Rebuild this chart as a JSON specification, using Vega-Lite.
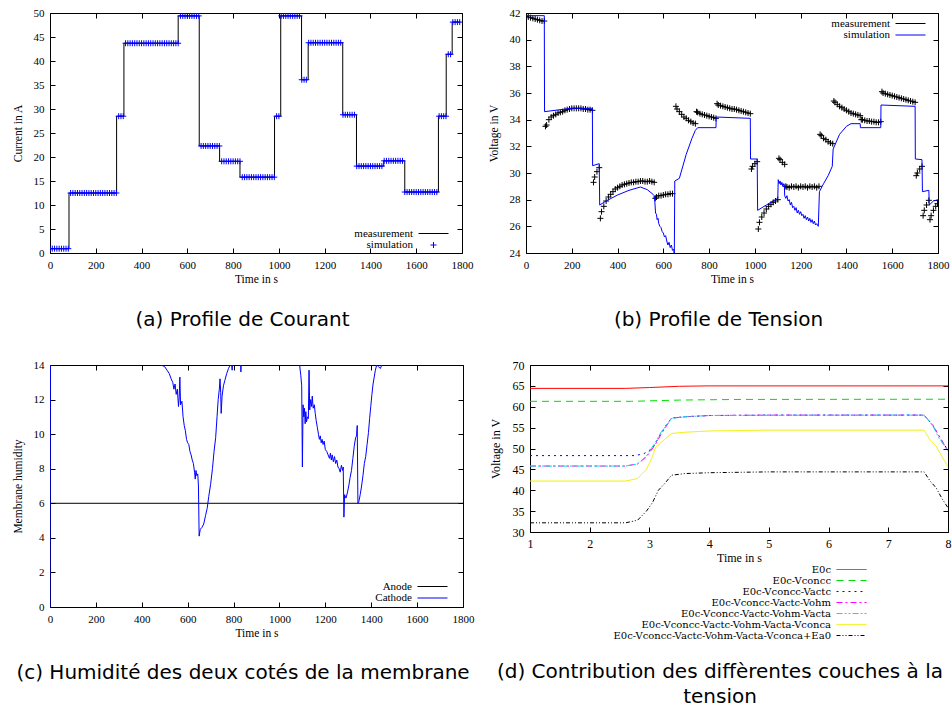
{
"$schema": "https://vega.github.io/schema/vega-lite/v6.json",
"background": "white",
"padding": {"left": 11, "top": 6, "right": 0, "bottom": 0},
"spacing": 28,
"datasets": {
"a_line": [{"t":0,"v":0.9},{"t":83,"v":12.5},{"t":291,"v":28.5},{"t":323,"v":43.7},{"t":560,"v":49.4},{"t":652,"v":22.3},{"t":741,"v":19.1},{"t":830,"v":15.8},{"t":981,"v":28.5},{"t":1008,"v":49.4},{"t":1099,"v":36.1},{"t":1128,"v":43.8},{"t":1279,"v":28.8},{"t":1339,"v":18.1},{"t":1458,"v":19.2},{"t":1550,"v":12.7},{"t":1697,"v":28.5},{"t":1731,"v":41.4},{"t":1757,"v":48.1},{"t":1790,"v":48.1}],
"a_sim": [{"t":0,"v":0.9},{"t":10,"v":0.9},{"t":20,"v":0.9},{"t":30,"v":0.9},{"t":40,"v":0.9},{"t":50,"v":0.9},{"t":60,"v":0.9},{"t":70,"v":0.9},{"t":80,"v":0.9},
{"t":90,"v":12.5},{"t":100,"v":12.5},{"t":110,"v":12.5},{"t":120,"v":12.5},{"t":130,"v":12.5},{"t":140,"v":12.5},{"t":150,"v":12.5},{"t":160,"v":12.5},{"t":170,"v":12.5},{"t":180,"v":12.5},{"t":190,"v":12.5},{"t":200,"v":12.5},{"t":210,"v":12.5},{"t":220,"v":12.5},{"t":230,"v":12.5},{"t":240,"v":12.5},{"t":250,"v":12.5},{"t":260,"v":12.5},{"t":270,"v":12.5},{"t":280,"v":12.5},{"t":290,"v":12.5},
{"t":300,"v":28.5},{"t":310,"v":28.5},{"t":320,"v":28.5},
{"t":330,"v":43.7},{"t":340,"v":43.7},{"t":350,"v":43.7},{"t":360,"v":43.7},{"t":370,"v":43.7},{"t":380,"v":43.7},{"t":390,"v":43.7},{"t":400,"v":43.7},{"t":410,"v":43.7},{"t":420,"v":43.7},{"t":430,"v":43.7},{"t":440,"v":43.7},{"t":450,"v":43.7},{"t":460,"v":43.7},{"t":470,"v":43.7},{"t":480,"v":43.7},{"t":490,"v":43.7},{"t":500,"v":43.7},{"t":510,"v":43.7},{"t":520,"v":43.7},{"t":530,"v":43.7},{"t":540,"v":43.7},{"t":550,"v":43.7},{"t":560,"v":43.7},
{"t":570,"v":49.4},{"t":580,"v":49.4},{"t":590,"v":49.4},{"t":600,"v":49.4},{"t":610,"v":49.4},{"t":620,"v":49.4},{"t":630,"v":49.4},{"t":640,"v":49.4},{"t":650,"v":49.4},
{"t":660,"v":22.3},{"t":670,"v":22.3},{"t":680,"v":22.3},{"t":690,"v":22.3},{"t":700,"v":22.3},{"t":710,"v":22.3},{"t":720,"v":22.3},{"t":730,"v":22.3},{"t":740,"v":22.3},
{"t":750,"v":19.1},{"t":760,"v":19.1},{"t":770,"v":19.1},{"t":780,"v":19.1},{"t":790,"v":19.1},{"t":800,"v":19.1},{"t":810,"v":19.1},{"t":820,"v":19.1},{"t":830,"v":19.1},
{"t":840,"v":15.8},{"t":850,"v":15.8},{"t":860,"v":15.8},{"t":870,"v":15.8},{"t":880,"v":15.8},{"t":890,"v":15.8},{"t":900,"v":15.8},{"t":910,"v":15.8},{"t":920,"v":15.8},{"t":930,"v":15.8},{"t":940,"v":15.8},{"t":950,"v":15.8},{"t":960,"v":15.8},{"t":970,"v":15.8},{"t":980,"v":15.8},
{"t":990,"v":28.5},{"t":1000,"v":28.5},
{"t":1010,"v":49.4},{"t":1020,"v":49.4},{"t":1030,"v":49.4},{"t":1040,"v":49.4},{"t":1050,"v":49.4},{"t":1060,"v":49.4},{"t":1070,"v":49.4},{"t":1080,"v":49.4},{"t":1090,"v":49.4},
{"t":1100,"v":36.1},{"t":1110,"v":36.1},{"t":1120,"v":36.1},
{"t":1130,"v":43.8},{"t":1140,"v":43.8},{"t":1150,"v":43.8},{"t":1160,"v":43.8},{"t":1170,"v":43.8},{"t":1180,"v":43.8},{"t":1190,"v":43.8},{"t":1200,"v":43.8},{"t":1210,"v":43.8},{"t":1220,"v":43.8},{"t":1230,"v":43.8},{"t":1240,"v":43.8},{"t":1250,"v":43.8},{"t":1260,"v":43.8},{"t":1270,"v":43.8},
{"t":1280,"v":28.8},{"t":1290,"v":28.8},{"t":1300,"v":28.8},{"t":1310,"v":28.8},{"t":1320,"v":28.8},{"t":1330,"v":28.8},
{"t":1340,"v":18.1},{"t":1350,"v":18.1},{"t":1360,"v":18.1},{"t":1370,"v":18.1},{"t":1380,"v":18.1},{"t":1390,"v":18.1},{"t":1400,"v":18.1},{"t":1410,"v":18.1},{"t":1420,"v":18.1},{"t":1430,"v":18.1},{"t":1440,"v":18.1},{"t":1450,"v":18.1},
{"t":1460,"v":19.2},{"t":1470,"v":19.2},{"t":1480,"v":19.2},{"t":1490,"v":19.2},{"t":1500,"v":19.2},{"t":1510,"v":19.2},{"t":1520,"v":19.2},{"t":1530,"v":19.2},{"t":1540,"v":19.2},
{"t":1550,"v":12.7},{"t":1560,"v":12.7},{"t":1570,"v":12.7},{"t":1580,"v":12.7},{"t":1590,"v":12.7},{"t":1600,"v":12.7},{"t":1610,"v":12.7},{"t":1620,"v":12.7},{"t":1630,"v":12.7},{"t":1640,"v":12.7},{"t":1650,"v":12.7},{"t":1660,"v":12.7},{"t":1670,"v":12.7},{"t":1680,"v":12.7},{"t":1690,"v":12.7},
{"t":1700,"v":28.5},{"t":1710,"v":28.5},{"t":1720,"v":28.5},{"t":1730,"v":28.5},
{"t":1740,"v":41.4},{"t":1750,"v":41.4},
{"t":1760,"v":48.1},{"t":1770,"v":48.1},{"t":1780,"v":48.1},{"t":1790,"v":48.1}],
"b_meas": [{"t":0,"v":41.75},{"t":10,"v":41.7},{"t":20,"v":41.65},{"t":30,"v":41.6},{"t":40,"v":41.55},{"t":50,"v":41.5},{"t":60,"v":41.45},{"t":70,"v":41.4},{"t":80,"v":41.4},
{"t":85,"v":33.5},{"t":90,"v":33.6},{"t":100,"v":34.0},{"t":110,"v":34.2},{"t":120,"v":34.3},{"t":130,"v":34.4},{"t":140,"v":34.5},{"t":150,"v":34.55},{"t":160,"v":34.6},{"t":170,"v":34.7},{"t":180,"v":34.75},{"t":190,"v":34.8},{"t":200,"v":34.85},{"t":210,"v":34.85},{"t":220,"v":34.85},{"t":230,"v":34.85},{"t":240,"v":34.85},{"t":250,"v":34.8},{"t":260,"v":34.8},{"t":270,"v":34.75},{"t":280,"v":34.75},{"t":290,"v":34.7},
{"t":295,"v":29.3},{"t":300,"v":29.7},{"t":310,"v":30.1},{"t":320,"v":30.4},
{"t":325,"v":26.6},{"t":330,"v":27.1},{"t":340,"v":27.5},{"t":350,"v":27.9},{"t":360,"v":28.2},{"t":370,"v":28.4},{"t":380,"v":28.6},{"t":390,"v":28.8},{"t":400,"v":28.9},{"t":410,"v":29.0},{"t":420,"v":29.1},{"t":430,"v":29.15},{"t":440,"v":29.2},{"t":450,"v":29.25},{"t":460,"v":29.3},{"t":470,"v":29.3},{"t":480,"v":29.35},{"t":490,"v":29.35},{"t":500,"v":29.4},{"t":510,"v":29.4},{"t":520,"v":29.35},{"t":530,"v":29.35},{"t":540,"v":29.4},{"t":550,"v":29.35},{"t":560,"v":29.3},
{"t":565,"v":28.1},{"t":570,"v":28.2},{"t":580,"v":28.3},{"t":590,"v":28.3},{"t":600,"v":28.35},{"t":610,"v":28.4},{"t":620,"v":28.4},{"t":630,"v":28.45},{"t":640,"v":28.45},
{"t":655,"v":35.0},{"t":660,"v":34.8},{"t":670,"v":34.6},{"t":680,"v":34.4},{"t":690,"v":34.2},{"t":700,"v":34.1},{"t":710,"v":33.95},{"t":720,"v":33.85},{"t":730,"v":33.75},{"t":740,"v":33.7},
{"t":745,"v":34.6},{"t":750,"v":34.55},{"t":760,"v":34.45},{"t":770,"v":34.4},{"t":780,"v":34.35},{"t":790,"v":34.3},{"t":800,"v":34.25},{"t":810,"v":34.2},{"t":820,"v":34.15},{"t":830,"v":34.1},
{"t":835,"v":35.2},{"t":840,"v":35.1},{"t":850,"v":35.05},{"t":860,"v":35.0},{"t":870,"v":34.95},{"t":880,"v":34.9},{"t":890,"v":34.85},{"t":900,"v":34.8},{"t":910,"v":34.8},{"t":920,"v":34.75},{"t":930,"v":34.7},{"t":940,"v":34.65},{"t":950,"v":34.6},{"t":960,"v":34.55},{"t":970,"v":34.5},{"t":980,"v":34.45},
{"t":985,"v":30.3},{"t":990,"v":30.5},{"t":1000,"v":30.7},{"t":1010,"v":30.85},
{"t":1015,"v":25.8},{"t":1020,"v":26.3},{"t":1030,"v":26.7},{"t":1040,"v":27.0},{"t":1050,"v":27.3},{"t":1060,"v":27.5},{"t":1070,"v":27.65},{"t":1080,"v":27.8},{"t":1090,"v":27.9},{"t":1100,"v":28.0},
{"t":1105,"v":31.1},{"t":1110,"v":31.0},{"t":1120,"v":30.8},{"t":1130,"v":30.65},
{"t":1135,"v":29.0},{"t":1140,"v":28.95},{"t":1150,"v":28.9},{"t":1160,"v":29.0},{"t":1170,"v":28.95},{"t":1180,"v":29.0},{"t":1190,"v":28.9},{"t":1200,"v":29.0},{"t":1210,"v":28.95},{"t":1220,"v":29.0},{"t":1230,"v":28.9},{"t":1240,"v":29.0},{"t":1250,"v":28.95},{"t":1260,"v":29.0},{"t":1270,"v":28.9},{"t":1280,"v":29.0},
{"t":1285,"v":32.9},{"t":1290,"v":32.8},{"t":1300,"v":32.6},{"t":1310,"v":32.5},{"t":1320,"v":32.35},{"t":1330,"v":32.25},{"t":1340,"v":32.2},
{"t":1345,"v":35.4},{"t":1350,"v":35.3},{"t":1360,"v":35.15},{"t":1370,"v":35.0},{"t":1380,"v":34.9},{"t":1390,"v":34.8},{"t":1400,"v":34.7},{"t":1410,"v":34.6},{"t":1420,"v":34.5},{"t":1430,"v":34.45},{"t":1440,"v":34.4},{"t":1450,"v":34.35},{"t":1460,"v":34.3},
{"t":1465,"v":34.0},{"t":1470,"v":34.0},{"t":1480,"v":33.95},{"t":1490,"v":33.9},{"t":1500,"v":33.9},{"t":1510,"v":33.85},{"t":1520,"v":33.85},{"t":1530,"v":33.8},{"t":1540,"v":33.8},{"t":1550,"v":33.85},
{"t":1555,"v":36.1},{"t":1560,"v":36.0},{"t":1570,"v":35.95},{"t":1580,"v":35.9},{"t":1590,"v":35.85},{"t":1600,"v":35.8},{"t":1610,"v":35.75},{"t":1620,"v":35.7},{"t":1630,"v":35.65},{"t":1640,"v":35.6},{"t":1650,"v":35.55},{"t":1660,"v":35.5},{"t":1670,"v":35.45},{"t":1680,"v":35.4},{"t":1690,"v":35.35},{"t":1700,"v":35.3},
{"t":1705,"v":29.8},{"t":1710,"v":30.0},{"t":1720,"v":30.3},{"t":1730,"v":30.5},
{"t":1735,"v":26.8},{"t":1740,"v":27.2},{"t":1750,"v":27.6},{"t":1760,"v":27.95},
{"t":1765,"v":26.5},{"t":1770,"v":26.8},{"t":1780,"v":27.2},{"t":1790,"v":27.5},{"t":1798,"v":27.7}],
"b_sim": [{"t":0,"v":41.8},{"t":80,"v":41.8},{"t":81,"v":34.6},{"t":150,"v":34.75},{"t":200,"v":34.85},{"t":290,"v":34.85},{"t":291,"v":30.55},{"t":320,"v":30.7},{"t":322,"v":27.6},{"t":350,"v":27.9},{"t":400,"v":28.35},{"t":450,"v":28.7},{"t":500,"v":28.95},{"t":530,"v":28.75},{"t":555,"v":28.4},
{"t":560,"v":28.3},{"t":563,"v":27.8},{"t":566,"v":27.0},{"t":570,"v":26.9},{"t":573,"v":26.5},{"t":577,"v":26.6},{"t":580,"v":26.2},{"t":585,"v":26.0},{"t":590,"v":25.9},{"t":595,"v":25.6},{"t":600,"v":25.5},{"t":605,"v":25.2},{"t":610,"v":25.3},{"t":615,"v":24.9},{"t":620,"v":24.6},{"t":625,"v":24.8},{"t":630,"v":24.4},{"t":635,"v":24.6},{"t":640,"v":24.2},{"t":645,"v":24.3},{"t":648,"v":23.9},
{"t":650,"v":29.4},{"t":670,"v":29.6},{"t":700,"v":31.4},{"t":725,"v":32.6},{"t":740,"v":33.2},{"t":750,"v":33.4},{"t":830,"v":33.4},{"t":831,"v":34.2},{"t":980,"v":34.1},{"t":981,"v":31.05},{"t":1010,"v":31.05},{"t":1012,"v":27.2},{"t":1050,"v":27.6},{"t":1080,"v":27.9},{"t":1100,"v":28.1},
{"t":1102,"v":29.5},{"t":1106,"v":29.2},{"t":1110,"v":29.4},{"t":1114,"v":29.1},{"t":1118,"v":29.3},{"t":1122,"v":29.0},{"t":1126,"v":29.2},{"t":1129,"v":29.1},
{"t":1130,"v":28.3},{"t":1135,"v":28.1},{"t":1140,"v":28.3},{"t":1145,"v":27.9},{"t":1150,"v":28.0},{"t":1155,"v":27.6},{"t":1160,"v":27.8},{"t":1165,"v":27.4},{"t":1170,"v":27.5},{"t":1175,"v":27.2},{"t":1180,"v":27.4},{"t":1185,"v":27.0},{"t":1190,"v":27.2},{"t":1195,"v":26.9},{"t":1200,"v":27.1},{"t":1205,"v":26.8},{"t":1210,"v":26.9},{"t":1215,"v":26.6},{"t":1220,"v":26.8},{"t":1225,"v":26.5},{"t":1230,"v":26.7},{"t":1235,"v":26.4},{"t":1240,"v":26.6},{"t":1245,"v":26.3},{"t":1250,"v":26.5},{"t":1255,"v":26.2},{"t":1260,"v":26.4},{"t":1265,"v":26.1},{"t":1270,"v":26.2},{"t":1277,"v":26.0},
{"t":1282,"v":28.6},{"t":1300,"v":29.2},{"t":1320,"v":29.8},{"t":1338,"v":30.5},{"t":1342,"v":31.8},{"t":1370,"v":32.9},{"t":1400,"v":33.5},{"t":1420,"v":33.7},{"t":1460,"v":33.7},{"t":1461,"v":33.4},{"t":1550,"v":33.4},{"t":1551,"v":35.1},{"t":1700,"v":35.0},{"t":1701,"v":31.05},{"t":1730,"v":31.0},{"t":1732,"v":28.6},{"t":1760,"v":28.7},{"t":1762,"v":27.6},{"t":1780,"v":27.9},{"t":1800,"v":28.0}],
"c_an": [{"t":0,"v":6},{"t":1800,"v":6}],
"c_ca": [{"t":0,"v":0},{"t":2,"v":15},{"t":478,"v":15},{"t":485,"v":14},{"t":500,"v":13.9},{"t":510,"v":13.7},{"t":520,"v":13.5},{"t":528,"v":13.2},{"t":535,"v":13.0},{"t":540,"v":12.6},{"t":545,"v":12.9},{"t":550,"v":12.3},{"t":555,"v":12.6},{"t":560,"v":11.6},{"t":563,"v":12.1},{"t":566,"v":13.3},{"t":569,"v":11.7},{"t":575,"v":11.9},{"t":580,"v":11.0},{"t":585,"v":10.5},{"t":590,"v":10.2},{"t":595,"v":9.7},{"t":600,"v":9.5},{"t":605,"v":9.4},{"t":610,"v":9.0},{"t":615,"v":8.8},{"t":620,"v":8.5},{"t":625,"v":8.3},{"t":630,"v":7.8},{"t":633,"v":7.4},{"t":636,"v":7.9},{"t":640,"v":7.6},{"t":644,"v":7.7},{"t":647,"v":7.0},{"t":650,"v":4.1},{"t":655,"v":4.5},{"t":662,"v":4.6},{"t":670,"v":4.8},{"t":678,"v":5.3},{"t":685,"v":5.7},{"t":692,"v":6.4},{"t":700,"v":7.1},{"t":708,"v":8.0},{"t":715,"v":9.0},{"t":722,"v":9.8},{"t":728,"v":11.0},{"t":733,"v":12.0},{"t":738,"v":12.6},{"t":741,"v":13.2},{"t":744,"v":12.4},{"t":746,"v":11.2},{"t":750,"v":12.2},{"t":756,"v":12.8},{"t":762,"v":13.1},{"t":770,"v":13.5},{"t":778,"v":13.8},{"t":785,"v":14.0},{"t":790,"v":14.3},{"t":794,"v":13.7},{"t":798,"v":15},{"t":830,"v":15},{"t":832,"v":13.6},{"t":835,"v":15},{"t":1082,"v":15},{"t":1088,"v":14},{"t":1093,"v":13.4},{"t":1097,"v":12.8},{"t":1100,"v":8.1},{"t":1103,"v":11.7},{"t":1106,"v":11.0},{"t":1109,"v":11.5},{"t":1112,"v":10.6},{"t":1115,"v":11.3},{"t":1118,"v":10.7},{"t":1122,"v":11.0},{"t":1126,"v":10.9},{"t":1129,"v":13.7},{"t":1132,"v":11.4},{"t":1136,"v":12.0},{"t":1140,"v":11.6},{"t":1143,"v":12.2},{"t":1147,"v":11.5},{"t":1152,"v":11.7},{"t":1156,"v":11.2},{"t":1160,"v":10.8},{"t":1165,"v":10.4},{"t":1170,"v":10.0},{"t":1174,"v":9.7},{"t":1178,"v":9.9},{"t":1182,"v":9.5},{"t":1186,"v":9.7},{"t":1190,"v":9.4},{"t":1195,"v":9.6},{"t":1200,"v":9.1},{"t":1206,"v":9.0},{"t":1212,"v":8.8},{"t":1218,"v":8.6},{"t":1222,"v":8.9},{"t":1226,"v":8.5},{"t":1230,"v":8.8},{"t":1235,"v":8.4},{"t":1240,"v":8.7},{"t":1245,"v":8.3},{"t":1250,"v":8.5},{"t":1255,"v":8.1},{"t":1260,"v":8.0},{"t":1265,"v":7.8},{"t":1270,"v":8.2},{"t":1275,"v":7.9},{"t":1278,"v":8.1},{"t":1281,"v":5.2},{"t":1284,"v":6.5},{"t":1290,"v":6.3},{"t":1296,"v":6.6},{"t":1302,"v":7.0},{"t":1308,"v":7.5},{"t":1314,"v":7.9},{"t":1320,"v":8.6},{"t":1326,"v":9.3},{"t":1332,"v":9.8},{"t":1336,"v":9.9},{"t":1339,"v":10.5},{"t":1342,"v":6.0},{"t":1346,"v":6.1},{"t":1352,"v":6.5},{"t":1358,"v":7.0},{"t":1364,"v":7.6},{"t":1370,"v":8.3},{"t":1376,"v":8.7},{"t":1382,"v":9.4},{"t":1388,"v":10.1},{"t":1393,"v":10.9},{"t":1398,"v":11.6},{"t":1403,"v":12.3},{"t":1408,"v":12.9},{"t":1413,"v":13.3},{"t":1418,"v":13.7},{"t":1424,"v":14.0},{"t":1432,"v":13.9},{"t":1440,"v":13.8},{"t":1446,"v":14.0},{"t":1450,"v":15},{"t":1800,"v":15}],
"d": [{"s":"E0c","x":1,"v":64.4},{"s":"E0c","x":2.6,"v":64.4},{"s":"E0c","x":3.0,"v":64.6},{"s":"E0c","x":3.5,"v":64.9},{"s":"E0c","x":4,"v":65.0},{"s":"E0c","x":8,"v":65.0},
{"s":"E0c-Vconcc","x":1,"v":61.3},{"s":"E0c-Vconcc","x":2.7,"v":61.3},{"s":"E0c-Vconcc","x":3.5,"v":61.6},{"s":"E0c-Vconcc","x":4.5,"v":61.75},{"s":"E0c-Vconcc","x":8,"v":61.8},
{"s":"E0c-Vconcc-Vactc","x":1,"v":48.3},{"s":"E0c-Vconcc-Vactc","x":2.75,"v":48.3},{"s":"E0c-Vconcc-Vactc","x":2.9,"v":48.7},{"s":"E0c-Vconcc-Vactc","x":3.05,"v":50.0},{"s":"E0c-Vconcc-Vactc","x":3.15,"v":52.5},{"s":"E0c-Vconcc-Vactc","x":3.25,"v":55.0},{"s":"E0c-Vconcc-Vactc","x":3.37,"v":57.3},{"s":"E0c-Vconcc-Vactc","x":3.6,"v":57.6},{"s":"E0c-Vconcc-Vactc","x":4,"v":57.9},{"s":"E0c-Vconcc-Vactc","x":5,"v":58.0},{"s":"E0c-Vconcc-Vactc","x":7.6,"v":58.0},{"s":"E0c-Vconcc-Vactc","x":7.75,"v":55.5},{"s":"E0c-Vconcc-Vactc","x":7.85,"v":53.0},{"s":"E0c-Vconcc-Vactc","x":8,"v":49.5},
{"s":"E0c-Vconcc-Vactc-Vohm","x":1,"v":45.8},{"s":"E0c-Vconcc-Vactc-Vohm","x":2.6,"v":45.8},{"s":"E0c-Vconcc-Vactc-Vohm","x":2.8,"v":46.3},{"s":"E0c-Vconcc-Vactc-Vohm","x":2.95,"v":48.0},{"s":"E0c-Vconcc-Vactc-Vohm","x":3.1,"v":51.0},{"s":"E0c-Vconcc-Vactc-Vohm","x":3.2,"v":53.5},{"s":"E0c-Vconcc-Vactc-Vohm","x":3.37,"v":57.3},{"s":"E0c-Vconcc-Vactc-Vohm","x":3.6,"v":57.6},{"s":"E0c-Vconcc-Vactc-Vohm","x":4,"v":57.9},{"s":"E0c-Vconcc-Vactc-Vohm","x":5,"v":58.0},{"s":"E0c-Vconcc-Vactc-Vohm","x":7.6,"v":58.0},{"s":"E0c-Vconcc-Vactc-Vohm","x":7.75,"v":55.5},{"s":"E0c-Vconcc-Vactc-Vohm","x":7.85,"v":53.0},{"s":"E0c-Vconcc-Vactc-Vohm","x":8,"v":49.5},
{"s":"E0c-Vconcc-Vactc-Vohm-Vacta","x":1,"v":45.8},{"s":"E0c-Vconcc-Vactc-Vohm-Vacta","x":2.6,"v":45.8},{"s":"E0c-Vconcc-Vactc-Vohm-Vacta","x":2.8,"v":46.3},{"s":"E0c-Vconcc-Vactc-Vohm-Vacta","x":2.95,"v":48.2},{"s":"E0c-Vconcc-Vactc-Vohm-Vacta","x":3.1,"v":51.5},{"s":"E0c-Vconcc-Vactc-Vohm-Vacta","x":3.2,"v":54.0},{"s":"E0c-Vconcc-Vactc-Vohm-Vacta","x":3.37,"v":57.2},{"s":"E0c-Vconcc-Vactc-Vohm-Vacta","x":3.6,"v":57.6},{"s":"E0c-Vconcc-Vactc-Vohm-Vacta","x":4,"v":57.9},{"s":"E0c-Vconcc-Vactc-Vohm-Vacta","x":5,"v":57.95},{"s":"E0c-Vconcc-Vactc-Vohm-Vacta","x":7.6,"v":58.0},{"s":"E0c-Vconcc-Vactc-Vohm-Vacta","x":7.75,"v":55.3},{"s":"E0c-Vconcc-Vactc-Vohm-Vacta","x":7.85,"v":52.5},{"s":"E0c-Vconcc-Vactc-Vohm-Vacta","x":8,"v":49.3},
{"s":"E0c-Vconcc-Vactc-Vohm-Vacta-Vconca","x":1,"v":42.2},{"s":"E0c-Vconcc-Vactc-Vohm-Vacta-Vconca","x":2.6,"v":42.2},{"s":"E0c-Vconcc-Vactc-Vohm-Vacta-Vconca","x":2.8,"v":42.8},{"s":"E0c-Vconcc-Vactc-Vohm-Vacta-Vconca","x":2.95,"v":45.0},{"s":"E0c-Vconcc-Vactc-Vohm-Vacta-Vconca","x":3.05,"v":48.0},{"s":"E0c-Vconcc-Vactc-Vohm-Vacta-Vconca","x":3.1,"v":50.2},{"s":"E0c-Vconcc-Vactc-Vohm-Vacta-Vconca","x":3.2,"v":51.5},{"s":"E0c-Vconcc-Vactc-Vohm-Vacta-Vconca","x":3.37,"v":53.6},{"s":"E0c-Vconcc-Vactc-Vohm-Vacta-Vconca","x":3.6,"v":53.9},{"s":"E0c-Vconcc-Vactc-Vohm-Vacta-Vconca","x":4,"v":54.2},{"s":"E0c-Vconcc-Vactc-Vohm-Vacta-Vconca","x":5,"v":54.4},{"s":"E0c-Vconcc-Vactc-Vohm-Vacta-Vconca","x":7.6,"v":54.4},{"s":"E0c-Vconcc-Vactc-Vohm-Vacta-Vconca","x":7.7,"v":52.0},{"s":"E0c-Vconcc-Vactc-Vohm-Vacta-Vconca","x":7.8,"v":50.6},{"s":"E0c-Vconcc-Vactc-Vohm-Vacta-Vconca","x":7.9,"v":48.0},{"s":"E0c-Vconcc-Vactc-Vohm-Vacta-Vconca","x":8,"v":45.7},
{"s":"E0c-Vconcc-Vactc-Vohm-Vacta-Vconca+Ea0","x":1,"v":32.2},{"s":"E0c-Vconcc-Vactc-Vohm-Vacta-Vconca+Ea0","x":2.6,"v":32.2},{"s":"E0c-Vconcc-Vactc-Vohm-Vacta-Vconca+Ea0","x":2.8,"v":32.8},{"s":"E0c-Vconcc-Vactc-Vohm-Vacta-Vconca+Ea0","x":2.95,"v":35.0},{"s":"E0c-Vconcc-Vactc-Vohm-Vacta-Vconca+Ea0","x":3.05,"v":37.0},{"s":"E0c-Vconcc-Vactc-Vohm-Vacta-Vconca+Ea0","x":3.15,"v":40.0},{"s":"E0c-Vconcc-Vactc-Vohm-Vacta-Vconca+Ea0","x":3.25,"v":41.5},{"s":"E0c-Vconcc-Vactc-Vohm-Vacta-Vconca+Ea0","x":3.37,"v":43.6},{"s":"E0c-Vconcc-Vactc-Vohm-Vacta-Vconca+Ea0","x":3.6,"v":44.0},{"s":"E0c-Vconcc-Vactc-Vohm-Vacta-Vconca+Ea0","x":4,"v":44.2},{"s":"E0c-Vconcc-Vactc-Vohm-Vacta-Vconca+Ea0","x":5,"v":44.4},{"s":"E0c-Vconcc-Vactc-Vohm-Vacta-Vconca+Ea0","x":7.6,"v":44.4},{"s":"E0c-Vconcc-Vactc-Vohm-Vacta-Vconca+Ea0","x":7.7,"v":42.2},{"s":"E0c-Vconcc-Vactc-Vohm-Vacta-Vconca+Ea0","x":7.8,"v":40.6},{"s":"E0c-Vconcc-Vactc-Vohm-Vacta-Vconca+Ea0","x":7.9,"v":38.0},{"s":"E0c-Vconcc-Vactc-Vohm-Vacta-Vconca+Ea0","x":8,"v":35.8}]
},
"vconcat": [
{"hconcat": [
{"width": 412, "height": 240,
 "title": {"text": "(a) Profile de Courant", "orient": "bottom", "anchor": "middle", "frame": "bounds", "offset": 25},
 "layer": [
  {"data": {"name": "a_line"},
   "mark": {"type": "line", "interpolate": "step-after", "strokeWidth": 1, "clip": true},
   "encoding": {
    "x": {"field": "t", "type": "quantitative", "scale": {"domain": [0, 1800], "nice": false}, "axis": {"orient": "bottom", "title": "Time in s", "format": "d", "values": [0,200,400,600,800,1000,1200,1400,1600,1800]}},
    "y": {"field": "v", "type": "quantitative", "scale": {"domain": [0, 50], "nice": false}, "axis": {"orient": "left", "title": "Current in A", "values": [0,5,10,15,20,25,30,35,40,45,50]}},
    "color": {"datum": "measurement", "scale": {"domain": ["measurement", "simulation"], "range": ["#000000", "#0000ff"]},
     "legend": {"title": null, "legendX": 378, "legendY": 215, "encode": {"symbols": {"update": {"shape": {"signal": "datum.value === 'simulation' ? 'M-0.6,0H0.6M0,-0.6V0.6' : 'M-3,0H3'"}, "fill": {"value": "transparent"}}}}}}
   }},
  {"data": {"name": "a_sim"},
   "mark": {"type": "point", "shape": "M-1,0H1M0,-1V1", "filled": false, "size": 36, "strokeWidth": 1, "opacity": 1, "clip": true},
   "encoding": {
    "x": {"field": "t", "type": "quantitative", "axis": {"orient": "top", "labels": false, "title": null, "values": [0,200,400,600,800,1000,1200,1400,1600,1800]}},
    "y": {"field": "v", "type": "quantitative", "axis": {"orient": "right", "labels": false, "title": null, "values": [0,5,10,15,20,25,30,35,40,45,50]}},
    "color": {"datum": "simulation"}
   }}
 ],
 "resolve": {"axis": {"x": "independent", "y": "independent"}}
},
{"width": 412, "height": 240,
 "title": {"text": "(b) Profile de Tension", "orient": "bottom", "anchor": "middle", "frame": "bounds", "offset": 25},
 "layer": [
  {"data": {"name": "b_meas"},
   "mark": {"type": "point", "shape": "M-1,0H1M0,-1V1", "filled": false, "size": 36, "strokeWidth": 1, "opacity": 1, "clip": true},
   "encoding": {
    "x": {"field": "t", "type": "quantitative", "scale": {"domain": [0, 1800], "nice": false}, "axis": {"orient": "bottom", "title": "Time in s", "format": "d", "values": [0,200,400,600,800,1000,1200,1400,1600,1800]}},
    "y": {"field": "v", "type": "quantitative", "scale": {"domain": [24, 42], "nice": false, "zero": false}, "axis": {"orient": "left", "title": "Voltage in V", "values": [24,26,28,30,32,34,36,38,40,42]}},
    "color": {"datum": "measurement", "scale": {"domain": ["measurement", "simulation"], "range": ["#000000", "#0000ff"]},
     "legend": {"title": null, "legendX": 379, "legendY": 5, "encode": {"symbols": {"update": {"shape": {"signal": "datum.value === 'measurement' ? 'M-0.6,0H0.6M0,-0.6V0.6' : 'M-3,0H3'"}, "strokeWidth": {"signal": "datum.value === 'simulation' ? 1.5 : 1"}, "fill": {"value": "transparent"}}}}}}
   }},
  {"data": {"name": "b_sim"},
   "mark": {"type": "line", "strokeWidth": 1, "clip": true},
   "encoding": {
    "x": {"field": "t", "type": "quantitative", "axis": {"orient": "top", "labels": false, "title": null, "values": [0,200,400,600,800,1000,1200,1400,1600,1800]}},
    "y": {"field": "v", "type": "quantitative", "axis": {"orient": "right", "labels": false, "title": null, "values": [24,26,28,30,32,34,36,38,40,42]}},
    "color": {"datum": "simulation"}
   }}
 ],
 "resolve": {"axis": {"x": "independent", "y": "independent"}}
}
], "spacing": 13, "resolve": {"scale": {"color": "independent"}, "legend": {"color": "independent"}}},
{"hconcat": [
{"width": 413, "height": 242,
 "title": {"text": "(c) Humidité des deux cotés de la membrane", "orient": "bottom", "anchor": "middle", "frame": "bounds", "offset": 24},
 "layer": [
  {"data": {"name": "c_an"},
   "mark": {"type": "line", "strokeWidth": 1, "clip": true},
   "encoding": {
    "x": {"field": "t", "type": "quantitative", "scale": {"domain": [0, 1800], "nice": false}, "axis": {"orient": "bottom", "title": "Time in s", "format": "d", "values": [0,200,400,600,800,1000,1200,1400,1600,1800]}},
    "y": {"field": "v", "type": "quantitative", "scale": {"domain": [0, 14], "nice": false}, "axis": {"orient": "left", "title": "Membrane humidity", "values": [0,2,4,6,8,10,12,14]}},
    "color": {"datum": "Anode", "scale": {"domain": ["Anode", "Cathode"], "range": ["#000000", "#0000ff"]},
     "legend": {"title": null, "legendX": 377, "legendY": 216}}
   }},
  {"data": {"name": "c_ca"},
   "mark": {"type": "line", "strokeWidth": 1, "clip": true},
   "encoding": {
    "x": {"field": "t", "type": "quantitative", "axis": {"orient": "top", "labels": false, "title": null, "values": [0,200,400,600,800,1000,1200,1400,1600,1800]}},
    "y": {"field": "v", "type": "quantitative", "axis": {"orient": "right", "labels": false, "title": null, "values": [0,2,4,6,8,10,12,14]}},
    "color": {"datum": "Cathode"}
   }}
 ],
 "resolve": {"axis": {"x": "independent", "y": "independent"}}
},
{"width": 418, "height": 167,
 "title": {"text": ["(d) Contribution des diffèrentes couches à la", "tension"], "orient": "bottom", "anchor": "middle", "frame": "bounds", "offset": 21, "lineHeight": 25},
 "data": {"name": "d"},
 "layer": [
  {"mark": {"type": "line", "strokeWidth": 1, "clip": true},
   "encoding": {
    "x": {"field": "x", "type": "quantitative", "scale": {"domain": [1, 8], "nice": false, "zero": false}, "axis": {"orient": "bottom", "title": "Time in s", "values": [1,2,3,4,5,6,7,8], "labelFontSize": 12, "titleFontSize": 12}},
    "y": {"field": "v", "type": "quantitative", "scale": {"domain": [30, 70], "nice": false, "zero": false}, "axis": {"orient": "left", "title": "Voltage in V", "values": [30,35,40,45,50,55,60,65,70], "labelFontSize": 12, "titleFontSize": 12}},
    "color": {"field": "s", "type": "nominal",
     "scale": {"domain": ["E0c","E0c-Vconcc","E0c-Vconcc-Vactc","E0c-Vconcc-Vactc-Vohm","E0c-Vconcc-Vactc-Vohm-Vacta","E0c-Vconcc-Vactc-Vohm-Vacta-Vconca","E0c-Vconcc-Vactc-Vohm-Vacta-Vconca+Ea0"],
               "range": ["#ff0000","#00e000","#0000ff","#ff00ff","#00e0e0","#f0f000","#000000"]},
     "legend": {"title": null, "legendX": 316, "legendY": 199, "labelFont": "DejaVu Serif", "labelFontSize": 10, "rowPadding": 0}},
    "strokeDash": {"field": "s", "type": "nominal",
     "scale": {"domain": ["E0c","E0c-Vconcc","E0c-Vconcc-Vactc","E0c-Vconcc-Vactc-Vohm","E0c-Vconcc-Vactc-Vohm-Vacta","E0c-Vconcc-Vactc-Vohm-Vacta-Vconca","E0c-Vconcc-Vactc-Vohm-Vacta-Vconca+Ea0"],
               "range": [[1,0],[7,5],[2,4],[6,3,2,3],[6,2,2,2,2,2],[1,0],[4,2,1,2,1,2]]},
     "legend": {"title": null, "legendX": 316, "legendY": 199, "labelFont": "DejaVu Serif", "labelFontSize": 10, "rowPadding": 0}}
   }},
  {"mark": {"type": "line", "opacity": 0},
   "encoding": {
    "x": {"field": "x", "type": "quantitative", "axis": {"orient": "top", "labels": false, "title": null, "values": [1,2,3,4,5,6,7,8]}},
    "y": {"field": "v", "type": "quantitative", "axis": {"orient": "right", "labels": false, "title": null, "values": [30,35,40,45,50,55,60,65,70]}},
    "detail": {"field": "s"}
   }}
 ],
 "resolve": {"axis": {"x": "independent", "y": "independent"}}
}
], "spacing": 13, "resolve": {"scale": {"color": "independent", "strokeDash": "independent"}, "legend": {"color": "independent", "strokeDash": "independent"}}}
],
"resolve": {"scale": {"color": "independent", "strokeDash": "independent"}, "legend": {"color": "independent", "strokeDash": "independent"}},
"config": {
 "view": {"stroke": "#000000", "strokeWidth": 1},
 "axis": {"domain": false, "grid": false, "tickSize": -5, "tickColor": "#000000", "tickWidth": 1, "labelPadding": 11, "labelFlush": false, "labelFont": "Liberation Serif", "labelFontSize": 11, "labelColor": "#000000", "titleFont": "Liberation Serif", "titleFontSize": 11.5, "titleFontWeight": "normal", "titleColor": "#000000"},
 "axisX": {"titlePadding": 3},
 "axisY": {"titlePadding": 10},
 "legend": {"orient": "none", "labelFont": "Liberation Serif", "labelFontSize": 11, "labelColor": "#000000", "labelAlign": "right", "labelOffset": -26, "labelLimit": 0, "symbolSize": 100, "symbolStrokeWidth": 1, "symbolType": "M-3,0H3", "rowPadding": -0.5, "padding": 0},
 "title": {"font": "DejaVu Sans", "fontSize": 20, "fontWeight": "normal", "color": "#000000"}
}
}
